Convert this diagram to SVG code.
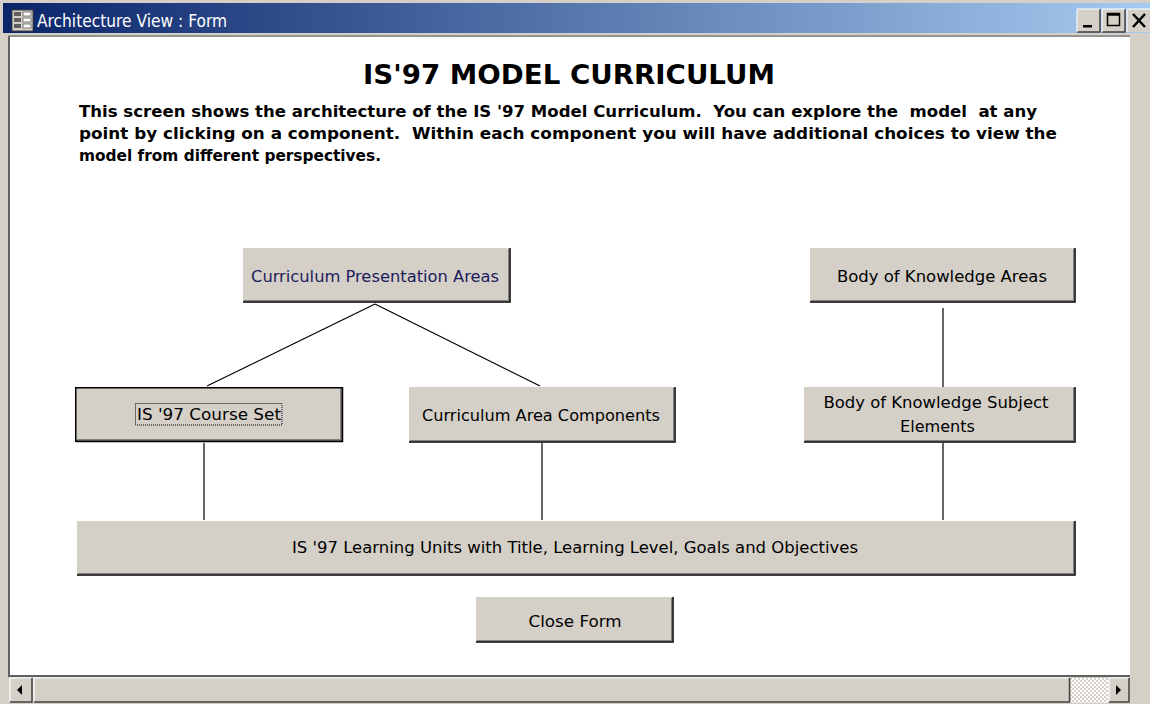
<svg xmlns="http://www.w3.org/2000/svg" width="1150" height="704" viewBox="0 0 1150 704">
<style>
.btn{fill:#d4d0c8}
.sh{stroke:#000;stroke-width:1.5;fill:none}
.sh2{stroke:#808080;stroke-width:1;fill:none}
.lbl{font-family:"DejaVu Sans Condensed","DejaVu Sans",sans-serif;font-size:16.5px;fill:#000;text-anchor:middle}
.para{font-family:"DejaVu Sans","Verdana",sans-serif;font-weight:bold;font-size:16.5px;fill:#000;white-space:pre}
.conn{stroke:#000;stroke-width:1.2;fill:none}
</style>
<defs>
<linearGradient id="tb" x1="0" y1="0" x2="1" y2="0">
<stop offset="0" stop-color="#0a246a"/>
<stop offset="1" stop-color="#a6caf0"/>
</linearGradient>
<pattern id="dith" width="4" height="4" patternUnits="userSpaceOnUse">
<rect width="4" height="4" fill="#ffffff"/>
<rect width="2" height="2" fill="#d4d0c8"/>
<rect x="2" y="2" width="2" height="2" fill="#d4d0c8"/>
</pattern>
</defs>

<!-- window frame -->
<rect x="0" y="0" width="1150" height="704" fill="#d4d0c8"/>
<rect x="10" y="37" width="1120" height="638" fill="#ffffff"/>
<line x1="9" y1="36" x2="9" y2="676" stroke="#606060" stroke-width="2"/>
<line x1="8" y1="36" x2="1130" y2="36" stroke="#808080" stroke-width="1.5"/>
<line x1="8" y1="676" x2="1130" y2="676" stroke="#606060" stroke-width="2"/>

<!-- title bar -->
<g id="titlebar">
<rect x="3" y="3" width="1147" height="30" fill="url(#tb)"/>
<g id="titleicon">
<rect x="12" y="10" width="21" height="21" fill="#d4d0c8" stroke="#404040" stroke-width="1"/>
<rect x="14" y="12" width="7" height="4" fill="#606060"/>
<rect x="14" y="18" width="7" height="4" fill="#606060"/>
<rect x="14" y="24" width="7" height="4" fill="#606060"/>
<rect x="23" y="12" width="8" height="4" fill="#ffffff" stroke="#606060" stroke-width="0.8"/>
<rect x="23" y="18" width="8" height="4" fill="#ffffff" stroke="#606060" stroke-width="0.8"/>
<rect x="23" y="24" width="8" height="4" fill="#ffffff" stroke="#606060" stroke-width="0.8"/>
</g>
<text x="37" y="27" font-family="'DejaVu Sans Condensed','DejaVu Sans',sans-serif" font-size="17.5" fill="#ffffff" textLength="190" lengthAdjust="spacingAndGlyphs">Architecture View : Form</text>
<g id="winbtns">
<rect x="1077" y="9" width="23" height="23" fill="#d4d0c8"/>
<path d="M1077 32 H1100 V9" stroke="#404040" stroke-width="1.5" fill="none"/>
<path d="M1077 32 V9 H1100" stroke="#ffffff" stroke-width="1" fill="none"/>
<rect x="1083" y="25" width="9" height="2.5" fill="#000"/>
<rect x="1102" y="9" width="23" height="23" fill="#d4d0c8"/>
<path d="M1102 32 H1125 V9" stroke="#404040" stroke-width="1.5" fill="none"/>
<path d="M1102 32 V9 H1125" stroke="#ffffff" stroke-width="1" fill="none"/>
<rect x="1107.5" y="13.5" width="12" height="12" fill="none" stroke="#000" stroke-width="1.5"/>
<line x1="1107.5" y1="14.5" x2="1119.5" y2="14.5" stroke="#000" stroke-width="2.5"/>
<rect x="1127" y="9" width="23" height="23" fill="#d4d0c8"/>
<path d="M1127 32 V9 H1150" stroke="#ffffff" stroke-width="1" fill="none"/>
<path d="M1133 14 L1145 27 M1145 14 L1133 27" stroke="#000" stroke-width="2.5" fill="none"/>
</g>
</g>

<!-- scrollbar -->
<g id="hscroll">
<rect x="10" y="677" width="1120" height="26" fill="#d4d0c8"/>
<path d="M10 702 V678 H32" stroke="#ffffff" stroke-width="1.2" fill="none"/>
<path d="M10 702 H32 V678" stroke="#404040" stroke-width="1.5" fill="none"/>
<path d="M17 690 L22 685 V695 Z" fill="#000"/>
<path d="M34 702 V678 H1069" stroke="#ffffff" stroke-width="1.2" fill="none"/>
<path d="M34 702 H1069.5 V678" stroke="#404040" stroke-width="1.5" fill="none"/>
<rect x="1071" y="678" width="37" height="25" fill="url(#dith)"/>
<rect x="1109" y="678" width="20" height="24" fill="#d4d0c8"/>
<path d="M1109 702 V678 H1129" stroke="#ffffff" stroke-width="1.2" fill="none"/>
<path d="M1109 702 H1129 V678" stroke="#404040" stroke-width="1.5" fill="none"/>
<path d="M1121 690 L1116 685 V695 Z" fill="#000"/>
</g>

<!-- header texts -->
<text x="363" y="84" font-family="'DejaVu Sans',Verdana,sans-serif" font-weight="bold" font-size="27" fill="#000" textLength="412" lengthAdjust="spacingAndGlyphs">IS'97 MODEL CURRICULUM</text>
<text class="para" x="79" y="117" textLength="958" lengthAdjust="spacingAndGlyphs" xml:space="preserve">This screen shows the architecture of the IS '97 Model Curriculum.  You can explore the  model  at any</text>
<text class="para" x="79" y="139" textLength="978" lengthAdjust="spacingAndGlyphs" xml:space="preserve">point by clicking on a component.  Within each component you will have additional choices to view the</text>
<text class="para" x="79" y="161" textLength="302" lengthAdjust="spacingAndGlyphs">model from different perspectives.</text>

<!-- connectors -->
<g id="connectors">
<path class="conn" d="M375 304 L207 386"/>
<path class="conn" d="M375 304 L540 386"/>
<path class="conn" d="M204 443 V520"/>
<path class="conn" d="M542 443 V520"/>
<path class="conn" d="M943 308 V387"/>
<path class="conn" d="M943 443 V520"/>
</g>

<!-- nodes -->
<g id="node-cpa">
<rect class="btn" x="243" y="248" width="267" height="54"/>
<path class="sh2" d="M244 300.5 H508.5 V249"/>
<path class="sh" d="M243 302 H510 V248"/>
<text class="lbl" x="375" y="282" style="fill:#1c1c5c" textLength="248" lengthAdjust="spacingAndGlyphs">Curriculum Presentation Areas</text>
</g>

<g id="node-bka">
<rect class="btn" x="810" y="248" width="265" height="54"/>
<path class="sh2" d="M811 300.5 H1073.5 V249"/>
<path class="sh" d="M810 302 H1075 V248"/>
<text class="lbl" x="942" y="282" textLength="210" lengthAdjust="spacingAndGlyphs">Body of Knowledge Areas</text>
</g>

<g id="node-bks">
<rect class="btn" x="804" y="387" width="271" height="55"/>
<path class="sh2" d="M805 440.5 H1073.5 V388"/>
<path class="sh" d="M804 442 H1075 V387"/>
<text class="lbl" x="936" y="408" textLength="225" lengthAdjust="spacingAndGlyphs">Body of Knowledge Subject</text>
<text class="lbl" x="937.5" y="432" textLength="75" lengthAdjust="spacingAndGlyphs">Elements</text>
</g>

<g id="node-cs">
<rect class="btn" x="75" y="387" width="268" height="55"/>
<rect x="75.75" y="387.75" width="266.5" height="53.5" fill="none" stroke="#000" stroke-width="1.5"/>
<path class="sh2" d="M77 439.5 H340.5 V389"/>
<path d="M76 441.5 H342.5 V387" stroke="#000" stroke-width="1.5" fill="none"/>
<rect x="135.5" y="403.5" width="146.5" height="21.5" fill="none" stroke="#000" stroke-width="1" stroke-dasharray="1,1"/>
<text class="lbl" x="209" y="420" textLength="144" lengthAdjust="spacingAndGlyphs">IS '97 Course Set</text>
</g>

<g id="node-cac">
<rect class="btn" x="409" y="387" width="266" height="55"/>
<path class="sh2" d="M410 440.5 H673.5 V388"/>
<path class="sh" d="M409 442 H675 V387"/>
<text class="lbl" x="541" y="421" textLength="238" lengthAdjust="spacingAndGlyphs">Curriculum Area Components</text>
</g>

<g id="node-lu">
<rect class="btn" x="77" y="521" width="998" height="54"/>
<path class="sh2" d="M78 573.5 H1073.5 V522"/>
<path class="sh" d="M77 575 H1075 V521"/>
<text class="lbl" x="575" y="553" textLength="566" lengthAdjust="spacingAndGlyphs">IS '97 Learning Units with Title, Learning Level, Goals and Objectives</text>
</g>

<g id="node-close">
<rect class="btn" x="476" y="597" width="197" height="45"/>
<path class="sh2" d="M477 640.5 H671.5 V598"/>
<path class="sh" d="M476 642 H673 V597"/>
<text class="lbl" x="575" y="627" textLength="93" lengthAdjust="spacingAndGlyphs">Close Form</text>
</g>
</svg>
